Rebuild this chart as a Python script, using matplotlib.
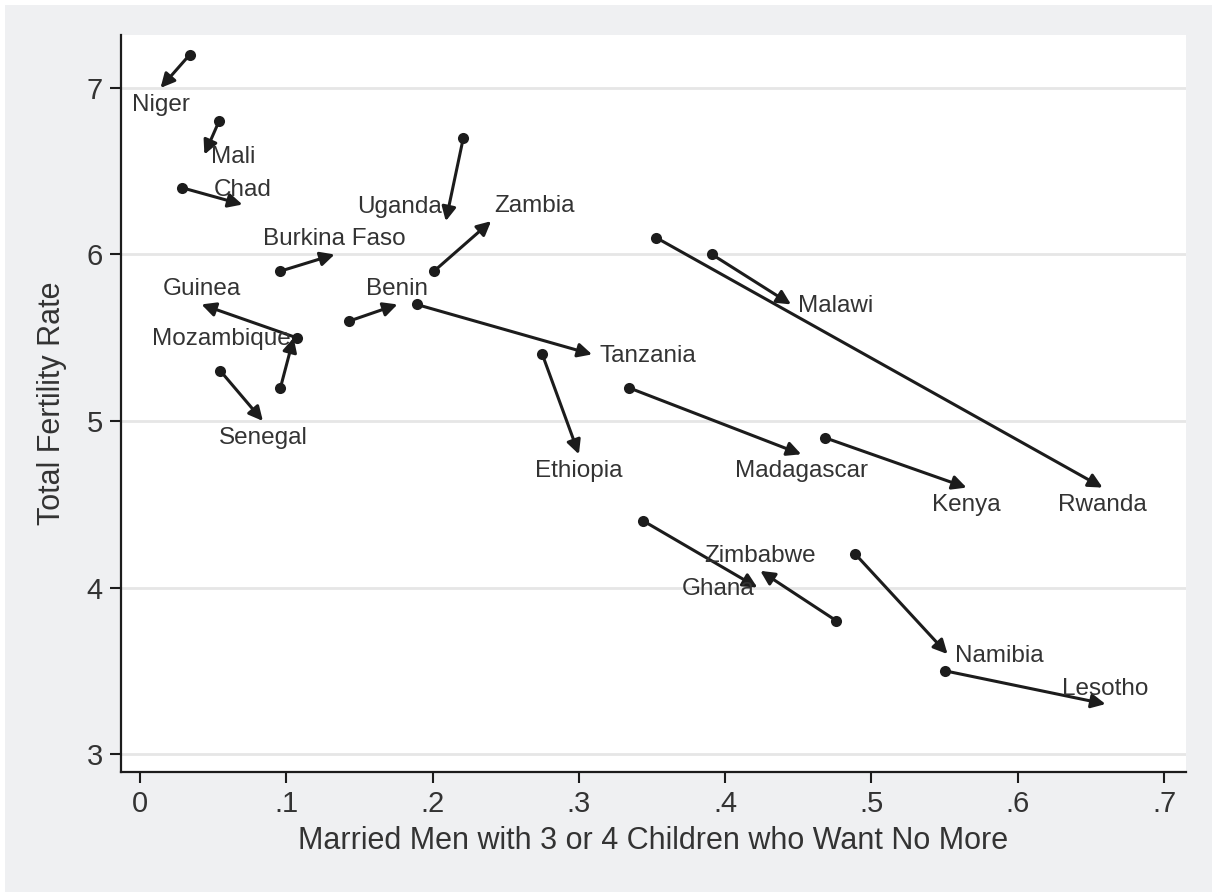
import numpy as np
import matplotlib
matplotlib.use("Agg")
import matplotlib.pyplot as plt
from matplotlib.patches import Rectangle

# survey 1 -> survey 2, per country
countries = ["Niger", "Mali", "Chad", "Uganda", "Zambia", "Burkina Faso", "Guinea",
             "Mozambique", "Benin", "Senegal", "Tanzania", "Ethiopia", "Malawi",
             "Rwanda", "Madagascar", "Kenya", "Ghana", "Zimbabwe", "Namibia", "Lesotho"]
want_no_more_1 = [0.034, 0.054, 0.029, 0.221, 0.201, 0.096, 0.107, 0.096, 0.143, 0.055,
                  0.189, 0.275, 0.391, 0.353, 0.334, 0.468, 0.344, 0.476, 0.489, 0.550]
want_no_more_2 = [0.014, 0.044, 0.070, 0.209, 0.240, 0.133, 0.042, 0.105, 0.176, 0.084,
                  0.309, 0.300, 0.445, 0.658, 0.452, 0.565, 0.422, 0.424, 0.552, 0.660]
tfr_1 = [7.2, 6.8, 6.4, 6.7, 5.9, 5.9, 5.5, 5.2, 5.6, 5.3,
         5.7, 5.4, 6.0, 6.1, 5.2, 4.9, 4.4, 3.8, 4.2, 3.5]
tfr_2 = [7.0, 6.6, 6.3, 6.2, 6.2, 6.0, 5.7, 5.5, 5.7, 5.0,
         5.4, 4.8, 5.7, 4.6, 4.8, 4.6, 4.0, 4.1, 3.6, 3.3]

# clock position of each label around the arrow head (Stata style)
label_pos = [6, 3, 12, 11, 1, 12, 12, 9, 12, 6, 3, 6, 3, 6, 6, 6, 9, 12, 3, 12]

xticks = [0, 0.1, 0.2, 0.3, 0.4, 0.5, 0.6, 0.7]
xticklabels = ["0", ".1", ".2", ".3", ".4", ".5", ".6", ".7"]
yticks = [3, 4, 5, 6, 7]

plt.rcParams["font.family"] = ["Liberation Sans", "DejaVu Sans"]

W, H = 1212, 892
bg = "#eff0f2"
ink = "#1c1c1c"
txt = "#333333"

fig = plt.figure(figsize=(W / 100, H / 100), dpi=100, facecolor="white")
fig.patches.append(Rectangle((5 / W, 0), 1, 1 - 5 / H, transform=fig.transFigure,
                             facecolor=bg, edgecolor="none", zorder=-10))

ax = fig.add_axes([121 / W, 1 - 772 / H, (1186 - 121) / W, (772 - 35) / H])
ax.set_facecolor("white")
ax.set_xlim(-0.013, 0.715)
ax.set_ylim(2.892, 7.318)

for y in yticks:
    ax.axhline(y, color="#e6e6e6", lw=2, zorder=0)

# label offsets in pixels for each clock position
offsets = {
    12: (0, 15, "center", "center"),
    6: (0, -17, "center", "center"),
    3: (7, -2, "left", "center"),
    9: (-3, -1, "right", "center"),
    1: (3, 15, "left", "center"),
    11: (-4, 14, "right", "center"),
}

ax.scatter(want_no_more_1, tfr_1, s=64, color=ink, zorder=3, linewidths=0)
for name, x1, y1, x2, y2, p in zip(countries, want_no_more_1, tfr_1,
                                   want_no_more_2, tfr_2, label_pos):
    ax.annotate("", xy=(x2, y2), xytext=(x1, y1),
                arrowprops=dict(arrowstyle="-|>", color=ink, lw=2.2,
                                mutation_scale=21, shrinkA=0, shrinkB=0),
                zorder=3)
    dx, dy, ha, va = offsets[p]
    ax.annotate(name, xy=(x2, y2), xytext=(dx, dy), textcoords="offset pixels",
                ha=ha, va=va, fontsize=17.5, color=txt, zorder=4)

ax.set_xticks(xticks)
ax.set_xticklabels(xticklabels)
ax.set_yticks(yticks)
ax.tick_params(axis="both", direction="out", length=8, width=1.5, color=ink,
               labelsize=21, labelcolor=txt, pad=5)

for s in ["top", "right"]:
    ax.spines[s].set_visible(False)
for s in ["left", "bottom"]:
    ax.spines[s].set_color(ink)
    ax.spines[s].set_linewidth(1.6)

ax.set_xlabel("Married Men with 3 or 4 Children who Want No More", fontsize=22,
              color=txt, labelpad=6)
ax.set_ylabel("Total Fertility Rate", fontsize=22, color=txt, labelpad=14)

fig.savefig("out.png", dpi=100, facecolor=fig.get_facecolor())
